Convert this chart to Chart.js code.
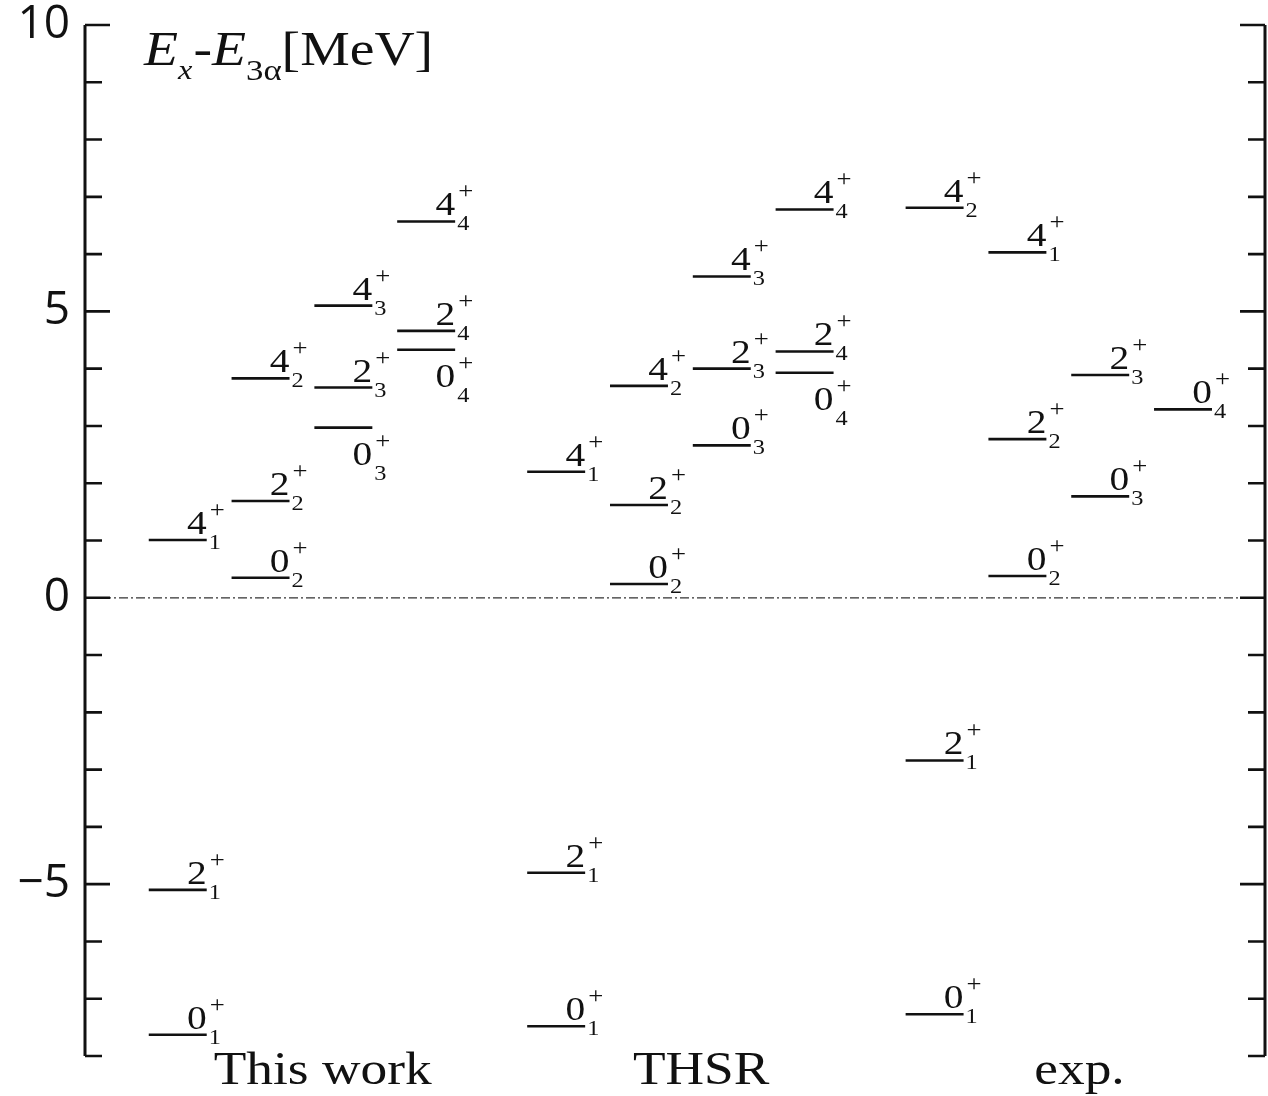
<!DOCTYPE html>
<html>
<head>
<meta charset="utf-8">
<script src="https://cdn.jsdelivr.net/npm/chart.js@4.4.1/dist/chart.umd.min.js"></script>
<style>
  html, body { margin: 0; padding: 0; background: #fff; }
  #chart { display: block; }
</style>
</head>
<body>
<canvas id="chart" width="1268" height="1096"></canvas>
<script>
// spectra: spin J, index n, sub-column within the group, energy E_x - E_3alpha (MeV)
const groupNames = ["This work", "THSR", "exp."];

const thisWorkJ   = [0, 2, 4, 0, 2, 4, 0, 2, 4, 0, 2, 4];
const thisWorkN   = [1, 1, 1, 2, 2, 2, 3, 3, 3, 4, 4, 4];
const thisWorkCol = [0, 0, 0, 1, 1, 1, 2, 2, 2, 3, 3, 3];
const thisWorkE   = [-7.63, -5.10, 1.01, 0.35, 1.69, 3.83, 2.97, 3.67, 5.10, 4.33, 4.66, 6.57];

const thsrJ   = [0, 2, 4, 0, 2, 4, 0, 2, 4, 0, 2, 4];
const thsrN   = [1, 1, 1, 2, 2, 2, 3, 3, 3, 4, 4, 4];
const thsrCol = [0, 0, 0, 1, 1, 1, 2, 2, 2, 3, 3, 3];
const thsrE   = [-7.48, -4.80, 2.20, 0.24, 1.62, 3.70, 2.66, 4.00, 5.61, 3.93, 4.30, 6.78];

const expJ   = [0, 2, 4, 0, 2, 4, 0, 2, 0];
const expN   = [1, 1, 2, 2, 2, 1, 3, 3, 4];
const expCol = [0, 0, 0, 1, 1, 1, 2, 2, 3];
const expE   = [-7.27, -2.84, 6.81, 0.38, 2.77, 6.03, 1.77, 3.89, 3.29];

const yTicksLabelled = [10, 5, 0, -5];

// labels that sit under their level instead of above it
const labelBelow = { "This work": ["0_3", "0_4"], "THSR": ["0_4"], "exp.": [] };

// horizontal layout in column units
const X_MAX = 14.25, COL0 = 0.77, GROUP_STEP = 4.57, LEVEL_LEN = 0.70, NAME_OFFSET = 2.1;
const SERIF = '"Liberation Serif", "Times New Roman", serif';
const STRETCH = 1.16;

const groups = [
  { name: groupNames[0], J: thisWorkJ, N: thisWorkN, col: thisWorkCol, E: thisWorkE },
  { name: groupNames[1], J: thsrJ, N: thsrN, col: thsrCol, E: thsrE },
  { name: groupNames[2], J: expJ, N: expN, col: expCol, E: expE }
];

const levels = [];
groups.forEach((g, gi) => {
  g.E.forEach((e, i) => {
    const x0 = COL0 + gi * GROUP_STEP + g.col[i];
    levels.push({
      j: g.J[i], n: g.N[i], e: e, x0: x0, x1: x0 + LEVEL_LEN,
      below: labelBelow[g.name].includes(g.J[i] + "_" + g.N[i])
    });
  });
});

const datasets = levels.map(l => ({
  data: [{ x: l.x0, y: l.e }, { x: l.x1, y: l.e }],
  borderColor: "#111",
  borderWidth: 2.6,
  pointRadius: 0,
  showLine: true
}));
datasets.push({
  data: [{ x: 0, y: 0 }, { x: X_MAX, y: 0 }],
  borderColor: "#333",
  borderWidth: 1.3,
  borderDash: [9, 3, 2, 3],
  pointRadius: 0,
  showLine: true
});

function stretchText(ctx, text, x, y, font, align) {
  ctx.save();
  ctx.font = font;
  ctx.textAlign = align || "left";
  ctx.textBaseline = "alphabetic";
  const w = ctx.measureText(text).width * STRETCH;
  ctx.translate(x, y);
  ctx.scale(STRETCH, 1);
  ctx.fillText(text, 0, 0);
  ctx.restore();
  return w;
}

const levelScheme = {
  id: "levelScheme",
  afterDatasetsDraw(chart) {
    const { ctx, chartArea: a, scales: { x, y } } = chart;
    ctx.save();
    ctx.fillStyle = "#111";
    ctx.strokeStyle = "#111";

    // frame: two vertical axes with inward ticks
    ctx.lineWidth = 3;
    ctx.beginPath();
    ctx.moveTo(a.left, a.top); ctx.lineTo(a.left, a.bottom);
    ctx.moveTo(a.right, a.top); ctx.lineTo(a.right, a.bottom);
    ctx.stroke();
    ctx.lineWidth = 2.6;
    y.ticks.forEach(t => {
      const py = y.getPixelForValue(t.value);
      const len = yTicksLabelled.includes(t.value) ? 25 : 17;
      ctx.beginPath();
      ctx.moveTo(a.left, py); ctx.lineTo(a.left + len, py);
      ctx.moveTo(a.right, py); ctx.lineTo(a.right - len, py);
      ctx.stroke();
    });

    // level labels J^+_n
    levels.forEach(l => {
      const xe = x.getPixelForValue(l.x1);
      const yl = y.getPixelForValue(l.e);
      const base = l.below ? yl + 37 : yl - 6;
      stretchText(ctx, String(l.j), xe, base, "34px " + SERIF, "right");
      stretchText(ctx, String(l.n), xe + 2, base + 15, "21px " + SERIF, "left");
      stretchText(ctx, "+", xe + 3, base - 17, "23px " + SERIF, "left");
    });

    // axis title
    let tx = 144;
    tx += stretchText(ctx, "E", tx, 65, "italic 48px " + SERIF);
    tx += stretchText(ctx, "x", tx, 79, "italic 28px " + SERIF);
    tx += stretchText(ctx, "-", tx + 1, 65, "48px " + SERIF) + 1;
    tx += stretchText(ctx, "E", tx, 65, "italic 48px " + SERIF);
    tx += stretchText(ctx, "3\u03b1", tx, 80, "30px " + SERIF);
    stretchText(ctx, "[MeV]", tx, 65, "48px " + SERIF);

    // group names under the plot
    groupNames.forEach((name, gi) => {
      const cx = x.getPixelForValue(COL0 + gi * GROUP_STEP + NAME_OFFSET);
      stretchText(ctx, name, cx, a.bottom + 28, "46px " + SERIF, "center");
    });
    ctx.restore();
  }
};

new Chart(document.getElementById("chart"), {
  type: "scatter",
  data: { datasets: datasets },
  plugins: [levelScheme],
  options: {
    responsive: false,
    animation: false,
    devicePixelRatio: 1,
    layout: { padding: { top: 25, right: 3, bottom: 40, left: 0 } },
    plugins: { legend: { display: false }, tooltip: { enabled: false } },
    elements: { line: { tension: 0, borderCapStyle: "butt" } },
    scales: {
      x: { type: "linear", min: 0, max: X_MAX, display: false },
      y: {
        type: "linear", min: -8, max: 10,
        afterFit: s => { s.width = 85; s.paddingTop = 0; s.paddingBottom = 0; },
        grid: { display: false, drawTicks: false },
        border: { display: false },
        ticks: {
          stepSize: 1,
          autoSkip: false,
          padding: 15,
          color: "#111",
          font: { family: '"Open Sans", sans-serif', size: 46, lineHeight: 0.5 },
          callback: v => yTicksLabelled.includes(v) ? String(v).replace("-", "\u2212") : ""
        }
      }
    }
  }
});
</script>
</body>
</html>
